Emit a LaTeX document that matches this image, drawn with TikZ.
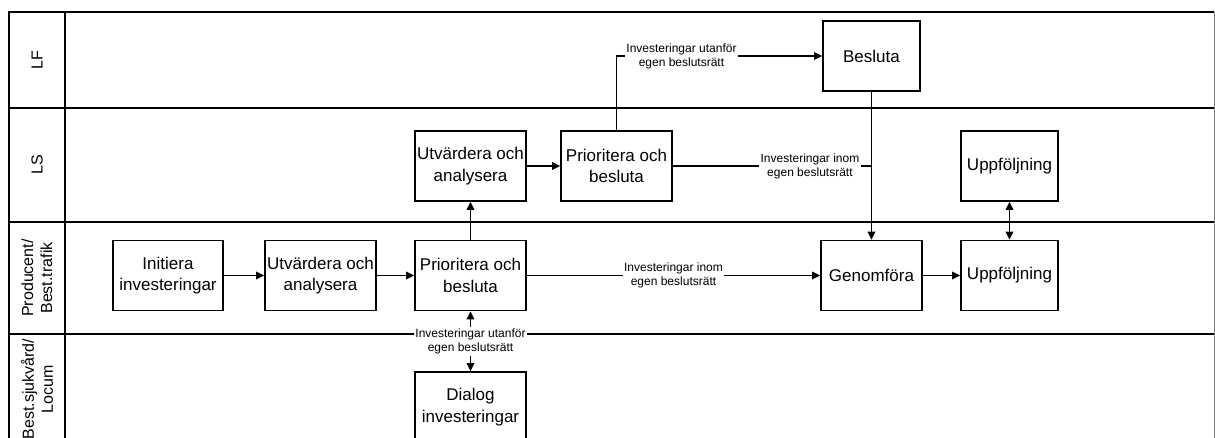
\documentclass[tikz,border=0pt]{standalone}
\usepackage{fontspec}
\setmainfont{Liberation Sans}
\usetikzlibrary{arrows.meta}
\begin{document}
\begin{tikzpicture}[x=1pt,y=-1pt,
 box/.style={draw,line width=1.7pt,minimum height=70pt,inner sep=0pt,align=center,font=\fontsize{17}{21.5}\selectfont},
 lane/.style={line width=2.4pt},
 conn/.style={line width=1.8pt},
 arr/.style={conn,-{Triangle[length=8pt,width=7.5pt]}},
 darr/.style={conn,{Triangle[length=8pt,width=7.5pt]}-{Triangle[length=8pt,width=7.5pt]}},
 lbl/.style={fill=white,inner sep=1.5pt,align=center,font=\fontsize{12}{14}\selectfont},
 lanelbl/.style={rotate=90,align=center,font=\fontsize{16}{19}\selectfont}]
\useasboundingbox (0,0) rectangle (1215,437);
\begin{scope}
\clip (0,0) rectangle (1215,437);
% lanes
\draw[gray,line width=1pt] (1214,12) -- (1214,440);
\draw[lane] (8,12) -- (1214,12);
\draw[lane] (9,12) -- (9,440);
\draw[lane] (65,12) -- (65,440);
\draw[lane] (9,108) -- (1214,108);
\draw[lane] (9,222) -- (1214,222);
\draw[lane] (9,334) -- (1214,334);
\node[lanelbl] (lLF) at (37,60) {LF};
\node[lanelbl] (lLS) at (37,165) {LS};
\node[lanelbl] (lPR) at (37,278) {Producent/\\Best.trafik};
\node[lanelbl] (lBS) at (37,389) {Best.sjukvård/\\Locum};
% boxes
\node[box,minimum width=110pt] (init) at (168,275.5) {Initiera\\investeringar};
\node[box,minimum width=111pt] (utvP) at (320.5,275.5) {Utvärdera och\\analysera};
\node[box,minimum width=111pt] (priP) at (470.5,275.5) {Prioritera och\\besluta};
\node[box,minimum width=111pt] (dial) at (470.5,407) {Dialog\\investeringar};
\node[box,minimum width=111pt] (utvLS) at (470.5,166) {Utvärdera och\\analysera};
\node[box,minimum width=111pt] (priLS) at (616.5,166) {Prioritera och\\besluta};
\node[box,minimum width=97pt] (besl) at (871.5,56) {Besluta};
\node[box,minimum width=101pt] (genf) at (871.5,275.5) {Genomföra};
\node[box,minimum width=97pt] (uppLS) at (1009.5,166) {Uppföljning};
\node[box,minimum width=97pt] (uppP) at (1009.5,275.5) {Uppföljning};
% connectors
\draw[arr] (init) -- (utvP);
\draw[arr] (utvP) -- (priP);
\draw[arr] (priP) -- (utvLS);
\draw[arr] (utvLS) -- (priLS);
\draw[arr] (priLS.north) |- node[lbl,pos=0.658] {Investeringar utanför\\egen beslutsrätt} (besl.west);
\coordinate (join) at (besl.south |- priLS.east);
\draw[conn] (priLS.east) -- node[lbl,pos=0.69] {Investeringar inom\\egen beslutsrätt} (join);
\draw[arr] (besl.south) -- (genf.north);
\draw[arr] (priP) -- node[lbl] {Investeringar inom\\egen beslutsrätt} (genf);
\draw[arr] (genf) -- (uppP);
\draw[darr] (uppLS) -- (uppP);
\node[lbl] (dlbl) at (470.5,341.5) {Investeringar utanför\\egen beslutsrätt};
\draw[arr] (dlbl.north) -- (priP.south);
\draw[arr] (dlbl.south) -- (dial.north);
\end{scope}
\end{tikzpicture}
\end{document}
